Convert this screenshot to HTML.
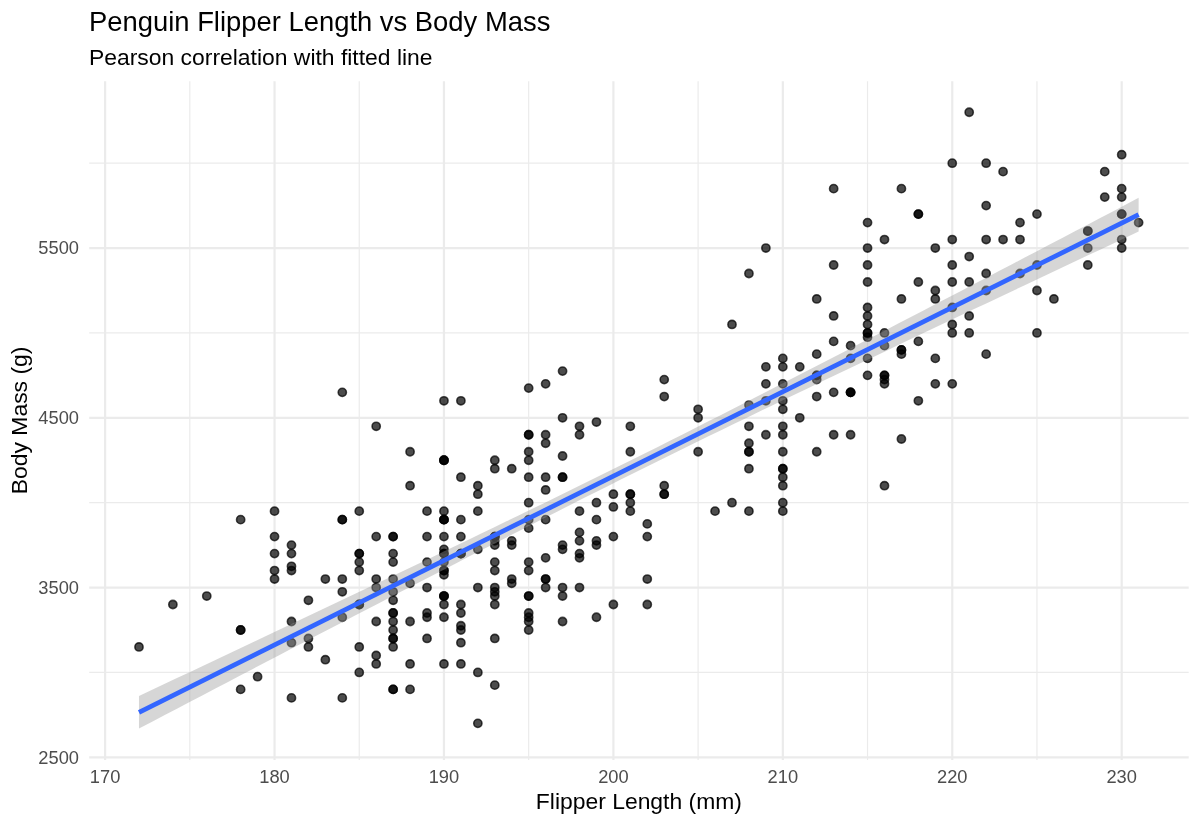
<!DOCTYPE html><html><head><meta charset="utf-8"><style>html,body{margin:0;padding:0;background:#fff;}svg{display:block;will-change:transform;}text{font-family:"Liberation Sans",sans-serif;}</style></head><body>
<svg width="1200" height="825" viewBox="0 0 1200 825">
<rect width="1200" height="825" fill="#fff"/>
<line x1="189.81" y1="81.2" x2="189.81" y2="760.0" stroke="#EBEBEB" stroke-width="1.2"/>
<line x1="359.25" y1="81.2" x2="359.25" y2="760.0" stroke="#EBEBEB" stroke-width="1.2"/>
<line x1="528.68" y1="81.2" x2="528.68" y2="760.0" stroke="#EBEBEB" stroke-width="1.2"/>
<line x1="698.11" y1="81.2" x2="698.11" y2="760.0" stroke="#EBEBEB" stroke-width="1.2"/>
<line x1="867.54" y1="81.2" x2="867.54" y2="760.0" stroke="#EBEBEB" stroke-width="1.2"/>
<line x1="1036.97" y1="81.2" x2="1036.97" y2="760.0" stroke="#EBEBEB" stroke-width="1.2"/>
<line x1="89.2" y1="672.42" x2="1188.7" y2="672.42" stroke="#EBEBEB" stroke-width="1.2"/>
<line x1="89.2" y1="502.67" x2="1188.7" y2="502.67" stroke="#EBEBEB" stroke-width="1.2"/>
<line x1="89.2" y1="332.92" x2="1188.7" y2="332.92" stroke="#EBEBEB" stroke-width="1.2"/>
<line x1="89.2" y1="163.17" x2="1188.7" y2="163.17" stroke="#EBEBEB" stroke-width="1.2"/>
<line x1="105.10" y1="81.2" x2="105.10" y2="760.0" stroke="#EBEBEB" stroke-width="2.2"/>
<line x1="274.53" y1="81.2" x2="274.53" y2="760.0" stroke="#EBEBEB" stroke-width="2.2"/>
<line x1="443.96" y1="81.2" x2="443.96" y2="760.0" stroke="#EBEBEB" stroke-width="2.2"/>
<line x1="613.39" y1="81.2" x2="613.39" y2="760.0" stroke="#EBEBEB" stroke-width="2.2"/>
<line x1="782.82" y1="81.2" x2="782.82" y2="760.0" stroke="#EBEBEB" stroke-width="2.2"/>
<line x1="952.25" y1="81.2" x2="952.25" y2="760.0" stroke="#EBEBEB" stroke-width="2.2"/>
<line x1="1121.68" y1="81.2" x2="1121.68" y2="760.0" stroke="#EBEBEB" stroke-width="2.2"/>
<line x1="89.2" y1="757.30" x2="1188.7" y2="757.30" stroke="#EBEBEB" stroke-width="2.2"/>
<line x1="89.2" y1="587.55" x2="1188.7" y2="587.55" stroke="#EBEBEB" stroke-width="2.2"/>
<line x1="89.2" y1="417.80" x2="1188.7" y2="417.80" stroke="#EBEBEB" stroke-width="2.2"/>
<line x1="89.2" y1="248.05" x2="1188.7" y2="248.05" stroke="#EBEBEB" stroke-width="2.2"/>
<g fill="#000" fill-opacity="0.7" stroke="#000" stroke-opacity="0.7" stroke-width="1.6"><circle cx="291.47" cy="545.11" r="4.1"/><circle cx="376.19" cy="536.62" r="4.1"/><circle cx="528.68" cy="629.99" r="4.1"/><circle cx="494.79" cy="596.04" r="4.1"/><circle cx="443.96" cy="562.09" r="4.1"/><circle cx="291.47" cy="566.33" r="4.1"/><circle cx="528.68" cy="388.09" r="4.1"/><circle cx="494.79" cy="591.79" r="4.1"/><circle cx="443.96" cy="460.24" r="4.1"/><circle cx="376.19" cy="621.50" r="4.1"/><circle cx="274.53" cy="553.60" r="4.1"/><circle cx="308.42" cy="638.47" r="4.1"/><circle cx="460.90" cy="536.62" r="4.1"/><circle cx="579.50" cy="434.77" r="4.1"/><circle cx="359.25" cy="553.60" r="4.1"/><circle cx="528.68" cy="596.04" r="4.1"/><circle cx="562.56" cy="417.80" r="4.1"/><circle cx="342.30" cy="617.26" r="4.1"/><circle cx="511.73" cy="468.72" r="4.1"/><circle cx="172.87" cy="604.52" r="4.1"/><circle cx="274.53" cy="570.57" r="4.1"/><circle cx="427.02" cy="536.62" r="4.1"/><circle cx="359.25" cy="511.16" r="4.1"/><circle cx="274.53" cy="536.62" r="4.1"/><circle cx="393.13" cy="536.62" r="4.1"/><circle cx="325.36" cy="579.06" r="4.1"/><circle cx="393.13" cy="638.47" r="4.1"/><circle cx="138.99" cy="646.96" r="4.1"/><circle cx="274.53" cy="511.16" r="4.1"/><circle cx="240.64" cy="629.99" r="4.1"/><circle cx="240.64" cy="519.65" r="4.1"/><circle cx="410.07" cy="621.50" r="4.1"/><circle cx="342.30" cy="519.65" r="4.1"/><circle cx="528.68" cy="617.26" r="4.1"/><circle cx="545.62" cy="477.21" r="4.1"/><circle cx="443.96" cy="511.16" r="4.1"/><circle cx="274.53" cy="579.06" r="4.1"/><circle cx="291.47" cy="621.50" r="4.1"/><circle cx="342.30" cy="392.34" r="4.1"/><circle cx="308.42" cy="646.96" r="4.1"/><circle cx="528.68" cy="519.65" r="4.1"/><circle cx="376.19" cy="655.45" r="4.1"/><circle cx="545.62" cy="434.77" r="4.1"/><circle cx="359.25" cy="672.42" r="4.1"/><circle cx="443.96" cy="400.82" r="4.1"/><circle cx="308.42" cy="600.28" r="4.1"/><circle cx="257.59" cy="676.67" r="4.1"/><circle cx="443.96" cy="596.04" r="4.1"/><circle cx="460.90" cy="477.21" r="4.1"/><circle cx="376.19" cy="587.55" r="4.1"/><circle cx="410.07" cy="451.75" r="4.1"/><circle cx="443.96" cy="596.04" r="4.1"/><circle cx="613.39" cy="494.19" r="4.1"/><circle cx="393.13" cy="689.40" r="4.1"/><circle cx="460.90" cy="553.60" r="4.1"/><circle cx="376.19" cy="579.06" r="4.1"/><circle cx="494.79" cy="536.62" r="4.1"/><circle cx="291.47" cy="697.89" r="4.1"/><circle cx="511.73" cy="545.11" r="4.1"/><circle cx="359.25" cy="646.96" r="4.1"/><circle cx="528.68" cy="434.77" r="4.1"/><circle cx="359.25" cy="570.57" r="4.1"/><circle cx="477.85" cy="494.19" r="4.1"/><circle cx="342.30" cy="697.89" r="4.1"/><circle cx="477.85" cy="511.16" r="4.1"/><circle cx="528.68" cy="613.01" r="4.1"/><circle cx="410.07" cy="485.70" r="4.1"/><circle cx="443.96" cy="663.94" r="4.1"/><circle cx="579.50" cy="426.29" r="4.1"/><circle cx="443.96" cy="570.57" r="4.1"/><circle cx="443.96" cy="519.65" r="4.1"/><circle cx="545.62" cy="579.06" r="4.1"/><circle cx="562.56" cy="477.21" r="4.1"/><circle cx="443.96" cy="553.60" r="4.1"/><circle cx="528.68" cy="460.24" r="4.1"/><circle cx="460.90" cy="553.60" r="4.1"/><circle cx="342.30" cy="519.65" r="4.1"/><circle cx="393.13" cy="579.06" r="4.1"/><circle cx="528.68" cy="502.67" r="4.1"/><circle cx="427.02" cy="638.47" r="4.1"/><circle cx="545.62" cy="383.85" r="4.1"/><circle cx="393.13" cy="536.62" r="4.1"/><circle cx="494.79" cy="468.72" r="4.1"/><circle cx="460.90" cy="613.01" r="4.1"/><circle cx="511.73" cy="579.06" r="4.1"/><circle cx="443.96" cy="536.62" r="4.1"/><circle cx="427.02" cy="587.55" r="4.1"/><circle cx="427.02" cy="511.16" r="4.1"/><circle cx="443.96" cy="570.57" r="4.1"/><circle cx="647.28" cy="579.06" r="4.1"/><circle cx="698.11" cy="451.75" r="4.1"/><circle cx="359.25" cy="604.52" r="4.1"/><circle cx="376.19" cy="426.29" r="4.1"/><circle cx="393.13" cy="621.50" r="4.1"/><circle cx="748.93" cy="451.75" r="4.1"/><circle cx="443.96" cy="553.60" r="4.1"/><circle cx="545.62" cy="443.26" r="4.1"/><circle cx="240.64" cy="689.40" r="4.1"/><circle cx="477.85" cy="485.70" r="4.1"/><circle cx="477.85" cy="549.36" r="4.1"/><circle cx="664.22" cy="379.61" r="4.1"/><circle cx="325.36" cy="659.69" r="4.1"/><circle cx="443.96" cy="460.24" r="4.1"/><circle cx="494.79" cy="685.16" r="4.1"/><circle cx="342.30" cy="579.06" r="4.1"/><circle cx="596.45" cy="545.11" r="4.1"/><circle cx="443.96" cy="519.65" r="4.1"/><circle cx="291.47" cy="642.72" r="4.1"/><circle cx="562.56" cy="371.12" r="4.1"/><circle cx="579.50" cy="532.38" r="4.1"/><circle cx="460.90" cy="400.82" r="4.1"/><circle cx="494.79" cy="638.47" r="4.1"/><circle cx="562.56" cy="455.99" r="4.1"/><circle cx="460.90" cy="519.65" r="4.1"/><circle cx="545.62" cy="489.94" r="4.1"/><circle cx="410.07" cy="689.40" r="4.1"/><circle cx="596.45" cy="540.87" r="4.1"/><circle cx="427.02" cy="613.01" r="4.1"/><circle cx="427.02" cy="617.26" r="4.1"/><circle cx="393.13" cy="646.96" r="4.1"/><circle cx="579.50" cy="587.55" r="4.1"/><circle cx="206.76" cy="596.04" r="4.1"/><circle cx="647.28" cy="523.89" r="4.1"/><circle cx="376.19" cy="663.94" r="4.1"/><circle cx="596.45" cy="502.67" r="4.1"/><circle cx="460.90" cy="625.74" r="4.1"/><circle cx="528.68" cy="451.75" r="4.1"/><circle cx="460.90" cy="663.94" r="4.1"/><circle cx="782.82" cy="502.67" r="4.1"/><circle cx="443.96" cy="617.26" r="4.1"/><circle cx="562.56" cy="587.55" r="4.1"/><circle cx="494.79" cy="587.55" r="4.1"/><circle cx="596.45" cy="422.04" r="4.1"/><circle cx="393.13" cy="600.28" r="4.1"/><circle cx="443.96" cy="519.65" r="4.1"/><circle cx="460.90" cy="642.72" r="4.1"/><circle cx="613.39" cy="506.92" r="4.1"/><circle cx="359.25" cy="604.52" r="4.1"/><circle cx="494.79" cy="460.24" r="4.1"/><circle cx="494.79" cy="604.52" r="4.1"/><circle cx="393.13" cy="591.79" r="4.1"/><circle cx="410.07" cy="663.94" r="4.1"/><circle cx="443.96" cy="549.36" r="4.1"/><circle cx="477.85" cy="672.42" r="4.1"/><circle cx="359.25" cy="562.09" r="4.1"/><circle cx="443.96" cy="460.24" r="4.1"/><circle cx="342.30" cy="591.79" r="4.1"/><circle cx="528.68" cy="596.04" r="4.1"/><circle cx="494.79" cy="545.11" r="4.1"/><circle cx="393.13" cy="553.60" r="4.1"/><circle cx="630.33" cy="502.67" r="4.1"/><circle cx="799.76" cy="417.80" r="4.1"/><circle cx="1121.68" cy="214.10" r="4.1"/><circle cx="782.82" cy="426.29" r="4.1"/><circle cx="918.36" cy="214.10" r="4.1"/><circle cx="867.54" cy="265.02" r="4.1"/><circle cx="782.82" cy="409.31" r="4.1"/><circle cx="799.76" cy="366.87" r="4.1"/><circle cx="935.31" cy="298.97" r="4.1"/><circle cx="765.88" cy="434.77" r="4.1"/><circle cx="867.54" cy="307.46" r="4.1"/><circle cx="850.59" cy="392.34" r="4.1"/><circle cx="884.48" cy="239.56" r="4.1"/><circle cx="850.59" cy="392.34" r="4.1"/><circle cx="833.65" cy="188.64" r="4.1"/><circle cx="782.82" cy="468.72" r="4.1"/><circle cx="901.42" cy="188.64" r="4.1"/><circle cx="782.82" cy="477.21" r="4.1"/><circle cx="969.19" cy="112.25" r="4.1"/><circle cx="765.88" cy="366.87" r="4.1"/><circle cx="986.14" cy="273.51" r="4.1"/><circle cx="918.36" cy="214.10" r="4.1"/><circle cx="867.54" cy="332.92" r="4.1"/><circle cx="833.65" cy="434.77" r="4.1"/><circle cx="867.54" cy="324.44" r="4.1"/><circle cx="867.54" cy="332.92" r="4.1"/><circle cx="867.54" cy="315.95" r="4.1"/><circle cx="884.48" cy="485.70" r="4.1"/><circle cx="867.54" cy="222.59" r="4.1"/><circle cx="782.82" cy="400.82" r="4.1"/><circle cx="952.25" cy="239.56" r="4.1"/><circle cx="986.14" cy="290.49" r="4.1"/><circle cx="765.88" cy="383.85" r="4.1"/><circle cx="731.99" cy="324.44" r="4.1"/><circle cx="1121.68" cy="154.69" r="4.1"/><circle cx="952.25" cy="307.46" r="4.1"/><circle cx="952.25" cy="265.02" r="4.1"/><circle cx="833.65" cy="341.41" r="4.1"/><circle cx="935.31" cy="290.49" r="4.1"/><circle cx="748.93" cy="443.26" r="4.1"/><circle cx="748.93" cy="273.51" r="4.1"/><circle cx="748.93" cy="511.16" r="4.1"/><circle cx="1036.97" cy="214.10" r="4.1"/><circle cx="782.82" cy="451.75" r="4.1"/><circle cx="884.48" cy="375.36" r="4.1"/><circle cx="986.14" cy="239.56" r="4.1"/><circle cx="901.42" cy="349.90" r="4.1"/><circle cx="782.82" cy="468.72" r="4.1"/><circle cx="1036.97" cy="265.02" r="4.1"/><circle cx="833.65" cy="315.95" r="4.1"/><circle cx="867.54" cy="282.00" r="4.1"/><circle cx="782.82" cy="358.39" r="4.1"/><circle cx="952.25" cy="282.00" r="4.1"/><circle cx="782.82" cy="434.77" r="4.1"/><circle cx="1036.97" cy="332.92" r="4.1"/><circle cx="901.42" cy="349.90" r="4.1"/><circle cx="952.25" cy="324.44" r="4.1"/><circle cx="748.93" cy="451.75" r="4.1"/><circle cx="952.25" cy="332.92" r="4.1"/><circle cx="748.93" cy="426.29" r="4.1"/><circle cx="1020.02" cy="239.56" r="4.1"/><circle cx="748.93" cy="468.72" r="4.1"/><circle cx="969.19" cy="282.00" r="4.1"/><circle cx="850.59" cy="434.77" r="4.1"/><circle cx="1138.62" cy="222.59" r="4.1"/><circle cx="935.31" cy="383.85" r="4.1"/><circle cx="1121.68" cy="214.10" r="4.1"/><circle cx="850.59" cy="392.34" r="4.1"/><circle cx="1104.74" cy="197.12" r="4.1"/><circle cx="952.25" cy="383.85" r="4.1"/><circle cx="1003.08" cy="239.56" r="4.1"/><circle cx="884.48" cy="375.36" r="4.1"/><circle cx="969.19" cy="332.92" r="4.1"/><circle cx="969.19" cy="315.95" r="4.1"/><circle cx="901.42" cy="298.97" r="4.1"/><circle cx="884.48" cy="383.85" r="4.1"/><circle cx="1121.68" cy="197.12" r="4.1"/><circle cx="765.88" cy="400.82" r="4.1"/><circle cx="952.25" cy="163.17" r="4.1"/><circle cx="867.54" cy="375.36" r="4.1"/><circle cx="1003.08" cy="171.66" r="4.1"/><circle cx="816.71" cy="396.58" r="4.1"/><circle cx="969.19" cy="256.54" r="4.1"/><circle cx="816.71" cy="379.61" r="4.1"/><circle cx="1020.02" cy="273.51" r="4.1"/><circle cx="816.71" cy="375.36" r="4.1"/><circle cx="1087.79" cy="231.07" r="4.1"/><circle cx="918.36" cy="400.82" r="4.1"/><circle cx="918.36" cy="282.00" r="4.1"/><circle cx="816.71" cy="354.14" r="4.1"/><circle cx="1121.68" cy="239.56" r="4.1"/><circle cx="918.36" cy="341.41" r="4.1"/><circle cx="1087.79" cy="265.02" r="4.1"/><circle cx="816.71" cy="375.36" r="4.1"/><circle cx="1020.02" cy="222.59" r="4.1"/><circle cx="850.59" cy="358.39" r="4.1"/><circle cx="1053.91" cy="298.97" r="4.1"/><circle cx="884.48" cy="345.66" r="4.1"/><circle cx="986.14" cy="354.14" r="4.1"/><circle cx="664.22" cy="396.58" r="4.1"/><circle cx="1036.97" cy="290.49" r="4.1"/><circle cx="935.31" cy="358.39" r="4.1"/><circle cx="1087.79" cy="231.07" r="4.1"/><circle cx="867.54" cy="337.17" r="4.1"/><circle cx="1087.79" cy="248.05" r="4.1"/><circle cx="884.48" cy="379.61" r="4.1"/><circle cx="867.54" cy="248.05" r="4.1"/><circle cx="782.82" cy="383.85" r="4.1"/><circle cx="935.31" cy="248.05" r="4.1"/><circle cx="748.93" cy="405.07" r="4.1"/><circle cx="765.88" cy="248.05" r="4.1"/><circle cx="884.48" cy="332.92" r="4.1"/><circle cx="1104.74" cy="171.66" r="4.1"/><circle cx="833.65" cy="392.34" r="4.1"/><circle cx="1121.68" cy="248.05" r="4.1"/><circle cx="901.42" cy="439.02" r="4.1"/><circle cx="1121.68" cy="188.64" r="4.1"/><circle cx="901.42" cy="354.14" r="4.1"/><circle cx="986.14" cy="163.17" r="4.1"/><circle cx="850.59" cy="345.66" r="4.1"/><circle cx="867.54" cy="358.39" r="4.1"/><circle cx="986.14" cy="205.61" r="4.1"/><circle cx="816.71" cy="298.97" r="4.1"/><circle cx="833.65" cy="265.02" r="4.1"/><circle cx="477.85" cy="587.55" r="4.1"/><circle cx="545.62" cy="519.65" r="4.1"/><circle cx="494.79" cy="562.09" r="4.1"/><circle cx="410.07" cy="583.31" r="4.1"/><circle cx="562.56" cy="549.36" r="4.1"/><circle cx="579.50" cy="511.16" r="4.1"/><circle cx="240.64" cy="629.99" r="4.1"/><circle cx="562.56" cy="545.11" r="4.1"/><circle cx="528.68" cy="477.21" r="4.1"/><circle cx="579.50" cy="553.60" r="4.1"/><circle cx="494.79" cy="536.62" r="4.1"/><circle cx="511.73" cy="540.87" r="4.1"/><circle cx="359.25" cy="553.60" r="4.1"/><circle cx="630.33" cy="494.19" r="4.1"/><circle cx="443.96" cy="574.82" r="4.1"/><circle cx="630.33" cy="494.19" r="4.1"/><circle cx="562.56" cy="621.50" r="4.1"/><circle cx="291.47" cy="553.60" r="4.1"/><circle cx="443.96" cy="596.04" r="4.1"/><circle cx="528.68" cy="434.77" r="4.1"/><circle cx="291.47" cy="570.57" r="4.1"/><circle cx="460.90" cy="604.52" r="4.1"/><circle cx="393.13" cy="689.40" r="4.1"/><circle cx="494.79" cy="536.62" r="4.1"/><circle cx="528.68" cy="621.50" r="4.1"/><circle cx="562.56" cy="477.21" r="4.1"/><circle cx="613.39" cy="604.52" r="4.1"/><circle cx="613.39" cy="536.62" r="4.1"/><circle cx="460.90" cy="553.60" r="4.1"/><circle cx="698.11" cy="409.31" r="4.1"/><circle cx="393.13" cy="638.47" r="4.1"/><circle cx="630.33" cy="451.75" r="4.1"/><circle cx="393.13" cy="613.01" r="4.1"/><circle cx="664.22" cy="485.70" r="4.1"/><circle cx="528.68" cy="570.57" r="4.1"/><circle cx="596.45" cy="519.65" r="4.1"/><circle cx="528.68" cy="528.14" r="4.1"/><circle cx="782.82" cy="366.87" r="4.1"/><circle cx="477.85" cy="723.35" r="4.1"/><circle cx="698.11" cy="417.80" r="4.1"/><circle cx="782.82" cy="511.16" r="4.1"/><circle cx="393.13" cy="562.09" r="4.1"/><circle cx="545.62" cy="579.06" r="4.1"/><circle cx="545.62" cy="587.55" r="4.1"/><circle cx="545.62" cy="557.84" r="4.1"/><circle cx="630.33" cy="426.29" r="4.1"/><circle cx="443.96" cy="604.52" r="4.1"/><circle cx="816.71" cy="451.75" r="4.1"/><circle cx="393.13" cy="629.99" r="4.1"/><circle cx="579.50" cy="557.84" r="4.1"/><circle cx="596.45" cy="617.26" r="4.1"/><circle cx="630.33" cy="511.16" r="4.1"/><circle cx="494.79" cy="570.57" r="4.1"/><circle cx="664.22" cy="494.19" r="4.1"/><circle cx="393.13" cy="613.01" r="4.1"/><circle cx="562.56" cy="596.04" r="4.1"/><circle cx="460.90" cy="629.99" r="4.1"/><circle cx="664.22" cy="494.19" r="4.1"/><circle cx="647.28" cy="536.62" r="4.1"/><circle cx="511.73" cy="583.31" r="4.1"/><circle cx="715.05" cy="511.16" r="4.1"/><circle cx="427.02" cy="562.09" r="4.1"/><circle cx="528.68" cy="562.09" r="4.1"/><circle cx="731.99" cy="502.67" r="4.1"/><circle cx="647.28" cy="604.52" r="4.1"/><circle cx="494.79" cy="540.87" r="4.1"/><circle cx="782.82" cy="485.70" r="4.1"/><circle cx="579.50" cy="540.87" r="4.1"/></g>
<polygon points="138.99,696.01 151.64,690.05 164.29,684.09 176.95,678.12 189.60,672.16 202.25,666.19 214.91,660.22 227.56,654.25 240.22,648.27 252.87,642.30 265.52,636.32 278.18,630.33 290.83,624.35 303.48,618.35 316.14,612.36 328.79,606.36 341.44,600.35 354.10,594.34 366.75,588.33 379.41,582.31 392.06,576.28 404.71,570.24 417.37,564.20 430.02,558.15 442.67,552.09 455.33,546.02 467.98,539.94 480.63,533.84 493.29,527.74 505.94,521.62 518.59,515.49 531.25,509.34 543.90,503.18 556.56,497.00 569.21,490.80 581.86,484.58 594.52,478.35 607.17,472.09 619.82,465.82 632.48,459.53 645.13,453.21 657.78,446.88 670.44,440.52 683.09,434.15 695.75,427.76 708.40,421.35 721.05,414.92 733.71,408.47 746.36,402.02 759.01,395.54 771.67,389.05 784.32,382.55 796.97,376.04 809.63,369.52 822.28,362.99 834.94,356.44 847.59,349.89 860.24,343.33 872.90,336.77 885.55,330.20 898.20,323.62 910.86,317.03 923.51,310.44 936.16,303.84 948.82,297.24 961.47,290.64 974.13,284.03 986.78,277.42 999.43,270.80 1012.09,264.18 1024.74,257.56 1037.39,250.93 1050.05,244.31 1062.70,237.68 1075.35,231.05 1088.01,224.41 1100.66,217.78 1113.32,211.14 1125.97,204.50 1138.62,197.86 1138.62,231.52 1125.97,237.48 1113.32,243.43 1100.66,249.39 1088.01,255.36 1075.35,261.32 1062.70,267.29 1050.05,273.25 1037.39,279.22 1024.74,285.20 1012.09,291.17 999.43,297.15 986.78,303.13 974.13,309.12 961.47,315.11 948.82,321.10 936.16,327.10 923.51,333.10 910.86,339.11 898.20,345.12 885.55,351.14 872.90,357.16 860.24,363.19 847.59,369.23 834.94,375.28 822.28,381.33 809.63,387.40 796.97,393.47 784.32,399.56 771.67,405.66 759.01,411.77 746.36,417.89 733.71,424.03 721.05,430.19 708.40,436.36 695.75,442.54 683.09,448.75 670.44,454.97 657.78,461.22 645.13,467.48 632.48,473.76 619.82,480.07 607.17,486.39 594.52,492.73 581.86,499.10 569.21,505.48 556.56,511.88 543.90,518.30 531.25,524.73 518.59,531.18 505.94,537.65 493.29,544.13 480.63,550.62 467.98,557.12 455.33,563.64 442.67,570.17 430.02,576.70 417.37,583.25 404.71,589.81 392.06,596.37 379.41,602.94 366.75,609.51 354.10,616.10 341.44,622.68 328.79,629.28 316.14,635.87 303.48,642.48 290.83,649.08 278.18,655.69 265.52,662.31 252.87,668.93 240.22,675.55 227.56,682.17 214.91,688.80 202.25,695.42 189.60,702.05 176.95,708.69 164.29,715.32 151.64,721.96 138.99,728.60" fill="#999999" fill-opacity="0.4"/>
<line x1="138.99" y1="712.30" x2="1138.62" y2="214.69" stroke="#3366FF" stroke-width="4.7"/>
<text x="105.10" y="783" font-size="18.3" fill="#4D4D4D" text-anchor="middle">170</text>
<text x="274.53" y="783" font-size="18.3" fill="#4D4D4D" text-anchor="middle">180</text>
<text x="443.96" y="783" font-size="18.3" fill="#4D4D4D" text-anchor="middle">190</text>
<text x="613.39" y="783" font-size="18.3" fill="#4D4D4D" text-anchor="middle">200</text>
<text x="782.82" y="783" font-size="18.3" fill="#4D4D4D" text-anchor="middle">210</text>
<text x="952.25" y="783" font-size="18.3" fill="#4D4D4D" text-anchor="middle">220</text>
<text x="1121.68" y="783" font-size="18.3" fill="#4D4D4D" text-anchor="middle">230</text>
<text x="79.0" y="763.70" font-size="18.3" fill="#4D4D4D" text-anchor="end">2500</text>
<text x="79.0" y="593.95" font-size="18.3" fill="#4D4D4D" text-anchor="end">3500</text>
<text x="79.0" y="424.20" font-size="18.3" fill="#4D4D4D" text-anchor="end">4500</text>
<text x="79.0" y="254.45" font-size="18.3" fill="#4D4D4D" text-anchor="end">5500</text>
<text x="638.9" y="808.75" font-size="22.9" fill="#000" text-anchor="middle">Flipper Length (mm)</text>
<text transform="translate(26.9,420.4) rotate(-90)" x="0" y="0" font-size="22.9" fill="#000" text-anchor="middle">Body Mass (g)</text>
<text x="89" y="31.25" font-size="27.4" fill="#000">Penguin Flipper Length vs Body Mass</text>
<text x="89" y="64.5" font-size="22.9" fill="#000">Pearson correlation with fitted line</text>
</svg></body></html>
